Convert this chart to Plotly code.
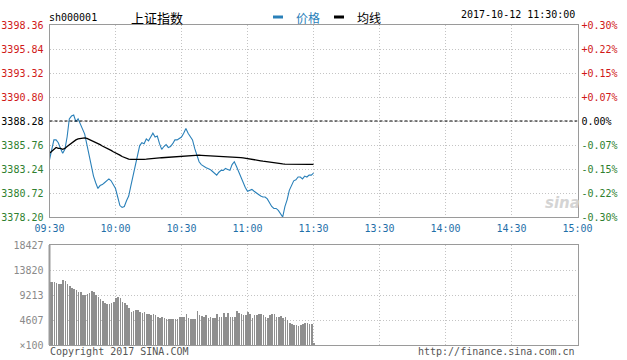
import plotly.graph_objects as go

W, H = 627, 360

# ---------------- data ----------------
minutes = list(range(121))  # 09:30 .. 11:30
price = [3384.2, 3385.3, 3386.3, 3386.3, 3386.0, 3385.4, 3384.9, 3385.3, 3386.6, 3388.5,
         3388.8, 3388.9, 3388.2, 3388.5, 3388.0, 3387.5, 3386.9, 3385.8, 3384.6, 3383.5,
         3382.5, 3381.8, 3381.2, 3381.5, 3381.6, 3381.8, 3382.0, 3382.2, 3382.0, 3381.6,
         3381.2, 3380.3, 3379.4, 3379.2, 3379.3, 3379.9, 3380.4, 3381.5, 3382.6, 3383.4,
         3384.8, 3385.7, 3386.0, 3385.9, 3386.4, 3386.2, 3386.6, 3387.0, 3386.6, 3386.7,
         3385.9, 3385.3, 3385.6, 3385.8, 3385.5, 3385.6, 3385.9, 3386.3, 3386.3, 3386.5,
         3386.6, 3387.0, 3387.5, 3387.0, 3386.7, 3386.3, 3385.4, 3384.6, 3384.0, 3383.7,
         3383.5, 3383.4, 3383.3, 3383.2, 3383.0, 3382.8, 3382.6, 3382.9, 3383.1, 3383.1,
         3383.3, 3383.2, 3383.1, 3383.7, 3384.0, 3383.5, 3382.9, 3382.3, 3381.9, 3381.3,
         3380.9, 3381.0, 3381.1, 3380.9, 3380.7, 3380.5, 3380.4, 3380.3, 3380.3, 3380.1,
         3379.7, 3379.3, 3379.1, 3379.1, 3378.9, 3378.6, 3378.2, 3379.3, 3380.0, 3381.0,
         3381.6, 3382.0, 3382.1, 3382.4, 3382.4, 3382.2, 3382.5, 3382.4, 3382.6, 3382.6,
         3382.8]
avg = [3384.9, 3385.1, 3385.4, 3385.5, 3385.4, 3385.4, 3385.3, 3385.4, 3385.6, 3385.8,
       3386.0, 3386.15, 3386.3, 3386.4, 3386.45, 3386.5, 3386.5, 3386.45, 3386.35, 3386.25,
       3386.15, 3386.0, 3385.9, 3385.8, 3385.65, 3385.55, 3385.4, 3385.3, 3385.2, 3385.05,
       3384.95, 3384.8, 3384.7, 3384.55, 3384.45, 3384.35, 3384.28, 3384.25, 3384.24, 3384.24,
       3384.24, 3384.24, 3384.25, 3384.26, 3384.27, 3384.28, 3384.3, 3384.32, 3384.35, 3384.37,
       3384.4, 3384.42, 3384.44, 3384.45, 3384.47, 3384.48, 3384.5, 3384.52, 3384.54, 3384.56,
       3384.58, 3384.6, 3384.62, 3384.64, 3384.66, 3384.67, 3384.68, 3384.69, 3384.69, 3384.68,
       3384.67, 3384.66, 3384.65, 3384.64, 3384.63, 3384.62, 3384.6, 3384.59, 3384.58, 3384.57,
       3384.56, 3384.55, 3384.54, 3384.53, 3384.52, 3384.5, 3384.47, 3384.44, 3384.41, 3384.38,
       3384.34, 3384.3, 3384.26, 3384.22, 3384.18, 3384.14, 3384.1, 3384.06, 3384.02, 3383.98,
       3383.94, 3383.91, 3383.88, 3383.85, 3383.82, 3383.8, 3383.78, 3383.76, 3383.75, 3383.74,
       3383.73, 3383.73, 3383.73, 3383.73, 3383.73, 3383.73, 3383.73, 3383.73, 3383.73, 3383.73,
       3383.73]
volume = [11700, 11600, 11700, 11400, 11200, 11300, 11900, 11800, 11300, 10800,
          10500, 10300, 10100, 9800, 9700, 9200, 9200, 9400, 9500, 9900,
          9800, 9300, 8900, 8400, 8200, 7700, 7500, 7600, 7700, 8000,
          8600, 8900, 8600, 8000, 7700, 7400, 6900, 6100, 6300, 6400,
          6450, 6100, 5900, 6000, 5800, 5700, 5600, 5700, 5500, 5200,
          5000, 5100, 4900, 4750, 4730, 4720, 4750, 4700, 4730, 5220,
          5200, 5250, 5650, 4900, 4730, 4750, 4730, 6330, 5500, 5300,
          5250, 5600, 5000, 5200, 4900, 4950, 5800, 5200, 5200, 5900,
          5250, 5900, 5200, 5200, 5250, 6350, 5900, 5700, 5500, 5550,
          6150, 5800, 4900, 5500, 5600, 5650, 5800, 5500, 5200, 4900,
          5500, 5700, 5800, 5200, 5250, 5300, 4900, 5200, 4600, 4100,
          3900, 3700, 3600, 3550, 3600, 3900, 4100, 4000, 3900, 3850,
          350]

prev_close = 3388.28
price_ticks = [3378.20, 3380.72, 3383.24, 3385.76, 3388.28, 3390.80, 3393.32, 3395.84, 3398.36]
pct_labels = ["-0.30%", "-0.22%", "-0.15%", "-0.07%", "0.00%", "+0.07%", "+0.15%", "+0.22%", "+0.30%"]
time_ticks = [0, 30, 60, 90, 120, 150, 180, 210, 240]
time_labels = ["09:30", "10:00", "10:30", "11:00", "11:30", "13:30", "14:00", "14:30", "15:00"]
vol_ticks = [0, 4607, 9213, 13820, 18427]
vol_labels = ["×100", "4607", "9213", "13820", "18427"]

# ---------------- styles ----------------
RED, GREEN, BLACK = "#d01818", "#2f7f2f", "#000000"
BLUE = "#2a80b9"
AXBLUE = "#1f6fa8"
GRID = "#c4c4c4"
GRIDDASH = "1px,2px"
FRAME = "#9a9a9a"
MONO = "DejaVu Sans Mono"


def col(v):
    if abs(v - prev_close) < 1e-6:
        return BLACK
    return RED if v > prev_close else GREEN


left_text = [f"<span style='color:{col(v)}'>{v:.2f}</span>" for v in price_ticks]
right_text = [f"<span style='color:{col(v)}'>{t}</span>" for v, t in zip(price_ticks, pct_labels)]

xd = [49.5 / W, 577.5 / W]
yd_price = [1 - 217 / H, 1 - 25 / H]
yd_vol = [1 - 345 / H, 1 - 245 / H]

fig = go.Figure()
fig.add_trace(go.Scatter(x=minutes, y=price, mode="lines", line=dict(color=BLUE, width=1.1),
                         xaxis="x", yaxis="y", name="价格", hoverinfo="skip"))
fig.add_trace(go.Scatter(x=minutes, y=avg, mode="lines", line=dict(color=BLACK, width=1.3),
                         xaxis="x", yaxis="y", name="均线", hoverinfo="skip"))
fig.add_trace(go.Bar(x=minutes, y=volume, width=0.35, marker=dict(color="#8f8f8f", line=dict(width=0)),
                     xaxis="x2", yaxis="y2", name="成交量", hoverinfo="skip"))
# invisible trace to carry the percent axis
fig.add_trace(go.Scatter(x=[0], y=[prev_close], mode="markers", marker=dict(opacity=0),
                         xaxis="x", yaxis="y3", showlegend=False, hoverinfo="skip"))

common_x = dict(domain=xd, range=[0, 240], tickvals=time_ticks, showgrid=True, gridcolor=GRID,
                griddash=GRIDDASH, gridwidth=1, showline=True, linecolor=FRAME, linewidth=1, mirror=True,
                zeroline=False, ticks="", fixedrange=True, automargin=False)

fig.update_layout(
    width=W, height=H, margin=dict(l=0, r=0, t=0, b=0, autoexpand=False),
    paper_bgcolor="white", plot_bgcolor="white", showlegend=False, bargap=0,
    xaxis=dict(**common_x, anchor="y", ticktext=time_labels,
               tickfont=dict(family=MONO, size=10, color=AXBLUE), ticklabelstandoff=2),
    xaxis2=dict(**common_x, anchor="y2", showticklabels=False),
    yaxis=dict(domain=yd_price, range=[price_ticks[0], price_ticks[-1]], tickvals=price_ticks,
               ticktext=left_text, tickfont=dict(family=MONO, size=10), showgrid=True,
               gridcolor=GRID, griddash=GRIDDASH, showline=True, linecolor=FRAME, mirror=True,
               zeroline=False, ticks="", anchor="x", ticklabelstandoff=3, automargin=False),
    yaxis3=dict(overlaying="y", side="right", range=[price_ticks[0], price_ticks[-1]],
                tickvals=price_ticks, ticktext=right_text, tickfont=dict(family=MONO, size=10),
                showgrid=False, zeroline=False, ticks="", anchor="x", showline=False,
                ticklabelstandoff=3, automargin=False),
    yaxis2=dict(domain=yd_vol, range=[0, vol_ticks[-1]], tickvals=vol_ticks, ticktext=vol_labels,
                tickfont=dict(family=MONO, size=10, color="#8a8a8a"), showgrid=True, gridcolor=GRID,
                griddash=GRIDDASH, showline=True, linecolor=FRAME, linewidth=1, mirror=True,
                zeroline=False, ticks="", anchor="x2", ticklabelstandoff=3, automargin=False),
)

# previous close dashed line
fig.add_shape(type="line", xref="x", yref="y", x0=0, x1=240, y0=prev_close, y1=prev_close,
              line=dict(color=BLACK, width=1, dash="3px,2px"))

# thicker left border on the volume panel
fig.add_shape(type="line", xref="paper", yref="paper", x0=xd[0], x1=xd[0], y0=yd_vol[0], y1=yd_vol[1],
              line=dict(color=FRAME, width=2))


def ann(text, x, y, xanchor="left", size=10, color="#000", family=MONO, **kw):
    fig.add_annotation(text=text, x=x / W, y=1 - y / H, xref="paper", yref="paper",
                       xanchor=xanchor, yanchor="middle", showarrow=False,
                       font=dict(family=family, size=size, color=color, **kw))


# header
ann("sh000001", 47, 17)
ann("上证指数", 129, 17, size=13, family="Noto Sans CJK SC")
fig.add_shape(type="line", xref="paper", yref="paper", x0=273 / W, x1=283 / W, y0=1 - 17 / H, y1=1 - 17 / H,
              line=dict(color=BLUE, width=3))
ann("价格", 294, 17, size=12, color=BLUE, family="Noto Sans CJK SC")
fig.add_shape(type="line", xref="paper", yref="paper", x0=334 / W, x1=344 / W, y0=1 - 17 / H, y1=1 - 17 / H,
              line=dict(color=BLACK, width=3))
ann("均线", 355, 17, size=12, family="Noto Sans CJK SC")
ann("2017-10-12 11:30:00", 577, 15, xanchor="right")

# footer
ann("Copyright 2017 SINA.COM", 48, 351, color="#555")
ann("http://finance.sina.com.cn", 577, 351, xanchor="right", color="#555")

# watermark
ann("sina", 562, 203, xanchor="center", size=15, color="#d4d4d4", family="DejaVu Sans",
    style="italic", weight="bold")

fig.write_html("out.html")
